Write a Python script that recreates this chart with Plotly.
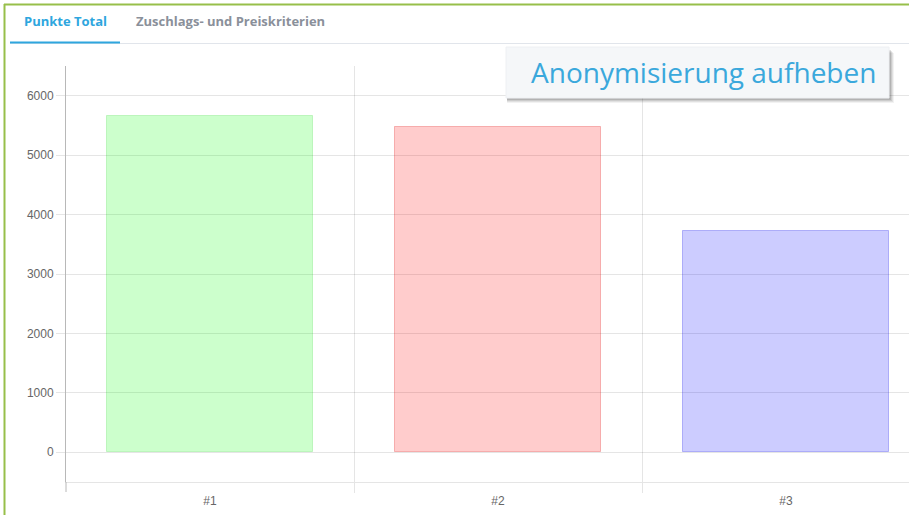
import plotly.graph_objects as go

# Data
categories = ["#1", "#2", "#3"]
points = [5660, 5480, 3720]
fill_colors = ["rgba(0,255,0,0.2)", "rgba(255,0,0,0.2)", "rgba(0,0,255,0.2)"]
line_colors = ["rgba(0,200,0,0.18)", "rgba(220,0,0,0.25)", "rgba(0,0,230,0.25)"]
y_ticks = [0, 1000, 2000, 3000, 4000, 5000, 6000]

W, H = 909, 515
L, R, T, B = 66, 0, 66, 33

def px_x(p):
    return (p - L) / (W - L - R)

def px_y(p):
    return 1 - (p - T) / (H - T - B)

fig = go.Figure()
fig.add_trace(go.Bar(
    x=[0, 1, 2], y=points, width=0.715,
    marker=dict(color=fill_colors, line=dict(color=line_colors, width=1)),
    hoverinfo="x+y", showlegend=False,
))
# invisible trace to carry the secondary x axis (category separators)
fig.add_trace(go.Scatter(x=[0], y=[0], xaxis="x2", mode="markers",
                         marker=dict(opacity=0), showlegend=False, hoverinfo="skip"))

xr = [-0.5, -0.5 + (W - L - R) / 288]
grid = "rgba(0,0,0,0.1)"
fig.update_layout(
    width=W, height=H,
    margin=dict(l=L, r=R, t=T, b=B),
    paper_bgcolor="white", plot_bgcolor="white",
    font=dict(family="Liberation Sans, Arial, sans-serif", size=12, color="#666"),
    bargap=0,
    xaxis=dict(
        range=xr, tickvals=[0, 1, 2], ticktext=categories,
        showgrid=False, zeroline=False, ticks="", showline=True,
        linecolor=grid, linewidth=1, ticklabelstandoff=8,
        tickfont=dict(size=12, color="#666"),
    ),
    xaxis2=dict(
        range=xr, overlaying="x", side="bottom",
        tickvals=[0.5, 1.5, 2.5], showticklabels=False,
        showgrid=True, gridcolor=grid, gridwidth=1,
        ticks="outside", ticklen=10, tickcolor=grid, zeroline=False,
    ),
    yaxis=dict(
        range=[-500, 6500], tickvals=y_ticks,
        showgrid=True, gridcolor=grid, gridwidth=1, zeroline=False,
        ticks="outside", ticklen=9, tickcolor=grid,
        showline=True, linecolor="#b8b8b8", linewidth=1,
        tickfont=dict(size=12, color="#666"),
    ),
)

shapes = []
# y axis extension below the plot
shapes.append(dict(type="line", xref="paper", yref="paper",
                   x0=0, x1=0, y0=px_y(482), y1=px_y(492),
                   line=dict(color="#b8b8b8", width=1)))
# outer green frame
shapes.append(dict(type="line", xref="paper", yref="paper",
                   x0=px_x(4.5), x1=px_x(4.5), y0=px_y(4), y1=px_y(515),
                   line=dict(color="#97bf4a", width=2)))
shapes.append(dict(type="line", xref="paper", yref="paper",
                   x0=px_x(4), x1=px_x(909), y0=px_y(4.5), y1=px_y(4.5),
                   line=dict(color="#97bf4a", width=2)))
# tab bar baseline and active tab underline
shapes.append(dict(type="line", xref="paper", yref="paper",
                   x0=px_x(10), x1=px_x(909), y0=px_y(43.5), y1=px_y(43.5),
                   line=dict(color="#e1e5eb", width=1)))
shapes.append(dict(type="line", xref="paper", yref="paper",
                   x0=px_x(10), x1=px_x(120), y0=px_y(42.5), y1=px_y(42.5),
                   line=dict(color="#2ea6de", width=2)))
# button shadow
for i, a in enumerate([0.05, 0.07, 0.09, 0.12]):
    off = 4 - i
    shapes.append(dict(type="rect", xref="paper", yref="paper",
                       x0=px_x(506 + 1), x1=px_x(890 + off),
                       y0=px_y(98 + off + 1), y1=px_y(49 + off),
                       line=dict(width=0), fillcolor=f"rgba(0,0,0,{a})"))
# button
shapes.append(dict(type="rect", xref="paper", yref="paper",
                   x0=px_x(506), x1=px_x(889), y0=px_y(98), y1=px_y(47),
                   line=dict(color="#eef0f3", width=1), fillcolor="#f5f7f9"))
fig.update_layout(shapes=shapes)

def label(text, cx, cy, size, color):
    return dict(text=text, x=px_x(cx), y=px_y(cy), xref="paper", yref="paper",
                xanchor="center", yanchor="middle", showarrow=False,
                font=dict(family="Open Sans", size=size, color=color))

annotations = [
    label("<b>Punkte Total</b>", 65, 21, 13, "#2ea6de"),
    label("<b>Zuschlags- und Preiskriterien</b>", 230, 21, 13, "#8a909a"),
    label("Anonymisierung aufheben", 703, 72, 28, "#3aa8dc"),
]
fig.update_layout(annotations=annotations)

fig.write_html("out.html")
